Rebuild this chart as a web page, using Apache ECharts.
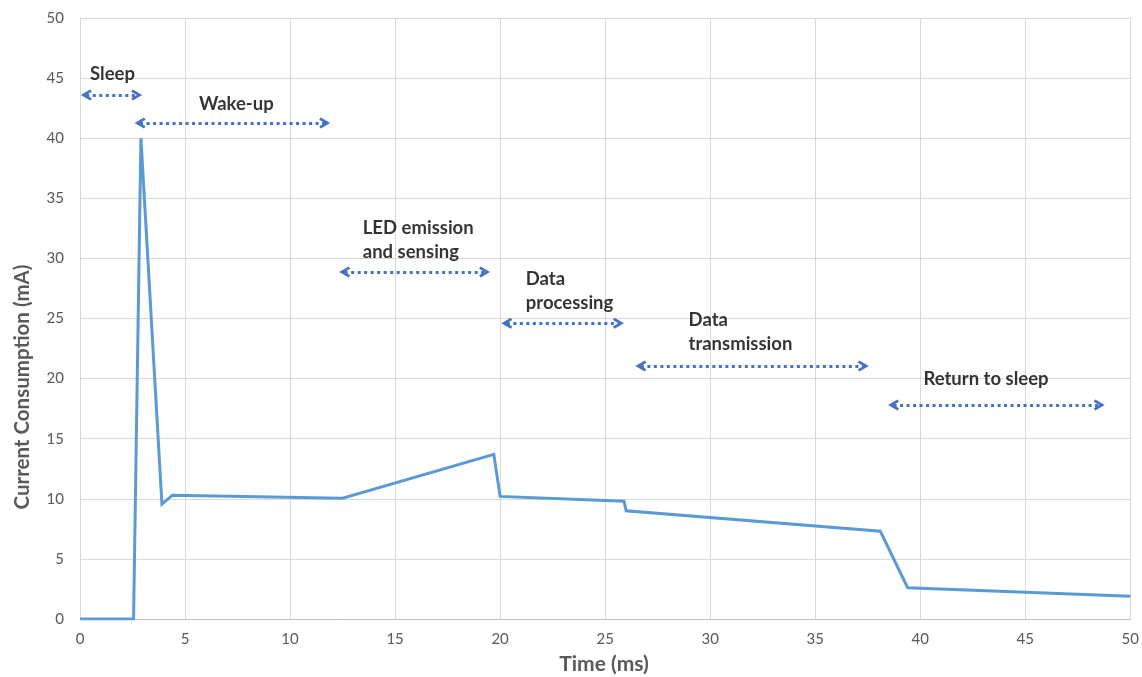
<!DOCTYPE html>
<html>
<head>
<meta charset="utf-8">
<script src="https://cdn.jsdelivr.net/npm/echarts@6/dist/echarts.min.js"></script>
<style>
html,body{margin:0;padding:0;background:#fff;}
#chart{width:1142px;height:677px;}
</style>
</head>
<body>
<div id="chart"></div>
<script>
// Measured current trace
const timeMs = [0, 2.55, 2.9, 3.9, 4.4, 12.5, 19.7, 20.0, 25.9, 26.0, 38.1, 39.4, 50];
const currentMa = [0, 0, 40, 9.55, 10.3, 10.05, 13.7, 10.2, 9.8, 9.0, 7.3, 2.6, 1.9];

// Phase annotations
const phaseLabels = ['Sleep', 'Wake-up', 'LED emission\nand sensing', 'Data\nprocessing', 'Data\ntransmission', 'Return to sleep'];
const arrowStart = [0.3, 2.86, 12.6, 20.32, 26.7, 38.73];
const arrowEnd = [2.7, 11.65, 19.26, 25.63, 37.29, 48.52];
const arrowLevel = [43.6, 41.26, 28.87, 24.6, 21.05, 17.8];
const labelX = [0.48, 5.66, 13.46, 21.22, 28.97, 40.15];
const labelY = [45.35, 42.85, 31.53, 27.29, 23.88, 19.97];

// Axis ticks
const xTicks = [0, 5, 10, 15, 20, 25, 30, 35, 40, 45, 50];
const yTicks = [0, 5, 10, 15, 20, 25, 30, 35, 40, 45, 50];

const chart = echarts.init(document.getElementById('chart'));
const font = 'Lato, "Noto Sans", sans-serif';
const chevron = 'path://M0,9 L5,0 L10,9 L8,10.5 L5,5 L2,10.5 Z';

const arrowData = arrowStart.map((s, i) => [
  {coord: [s, arrowLevel[i]]},
  {coord: [arrowEnd[i], arrowLevel[i]]}
]);

chart.setOption({
  animation: false,
  backgroundColor: '#fff',
  grid: {left: 80, right: 11, top: 18, bottom: 58},
  xAxis: {
    type: 'value', min: xTicks[0], max: xTicks[xTicks.length - 1], interval: xTicks[1] - xTicks[0],
    axisLine: {show: true, lineStyle: {color: '#bfbfbf', width: 1}},
    axisTick: {show: false},
    axisLabel: {color: '#595959', fontFamily: font, fontSize: 15, margin: 13},
    splitLine: {show: true, lineStyle: {color: '#d9d9d9', width: 1}}
  },
  yAxis: {
    type: 'value', min: yTicks[0], max: yTicks[yTicks.length - 1], interval: yTicks[1] - yTicks[0],
    axisLine: {show: true, lineStyle: {color: '#d9d9d9', width: 1}},
    axisTick: {show: false},
    axisLabel: {color: '#595959', fontFamily: font, fontSize: 15, margin: 16},
    splitLine: {show: true, lineStyle: {color: '#d9d9d9', width: 1}}
  },
  graphic: [
    {type: 'text', x: 604, y: 664, style: {text: 'Time (ms)', fill: '#595959', font: 'bold 21px ' + font, align: 'center', verticalAlign: 'middle'}},
    {type: 'text', x: 22, y: 387, rotation: Math.PI / 2, style: {text: 'Current Consumption (mA)', fill: '#595959', font: 'bold 20.5px ' + font, align: 'center', verticalAlign: 'middle'}}
  ],
  series: [
    {
      type: 'line',
      data: timeMs.map((t, i) => [t, currentMa[i]]),
      showSymbol: false,
      symbol: 'none',
      lineStyle: {color: '#5b9bd5', width: 3, join: 'miter'},
      silent: true,
      z: 3
    },
    {
      type: 'scatter',
      data: labelX.map((x, i) => [x, labelY[i]]),
      symbolSize: 0,
      silent: true,
      label: {
        show: true,
        position: 'right',
        distance: 0,
        formatter: p => phaseLabels[p.dataIndex],
        color: '#000',
        fontFamily: font,
        fontWeight: 'bold',
        fontSize: 18.5,
        lineHeight: 24,
        align: 'left',
        verticalAlign: 'middle'
      },
      markLine: {
        silent: true,
        symbol: [chevron, chevron],
        symbolSize: [11, 11],
        label: {show: false},
        lineStyle: {color: '#4472c4', width: 3, type: [3, 3.5], opacity: 1},
        data: arrowData
      },
      z: 4
    }
  ]
});
</script>
</body>
</html>
